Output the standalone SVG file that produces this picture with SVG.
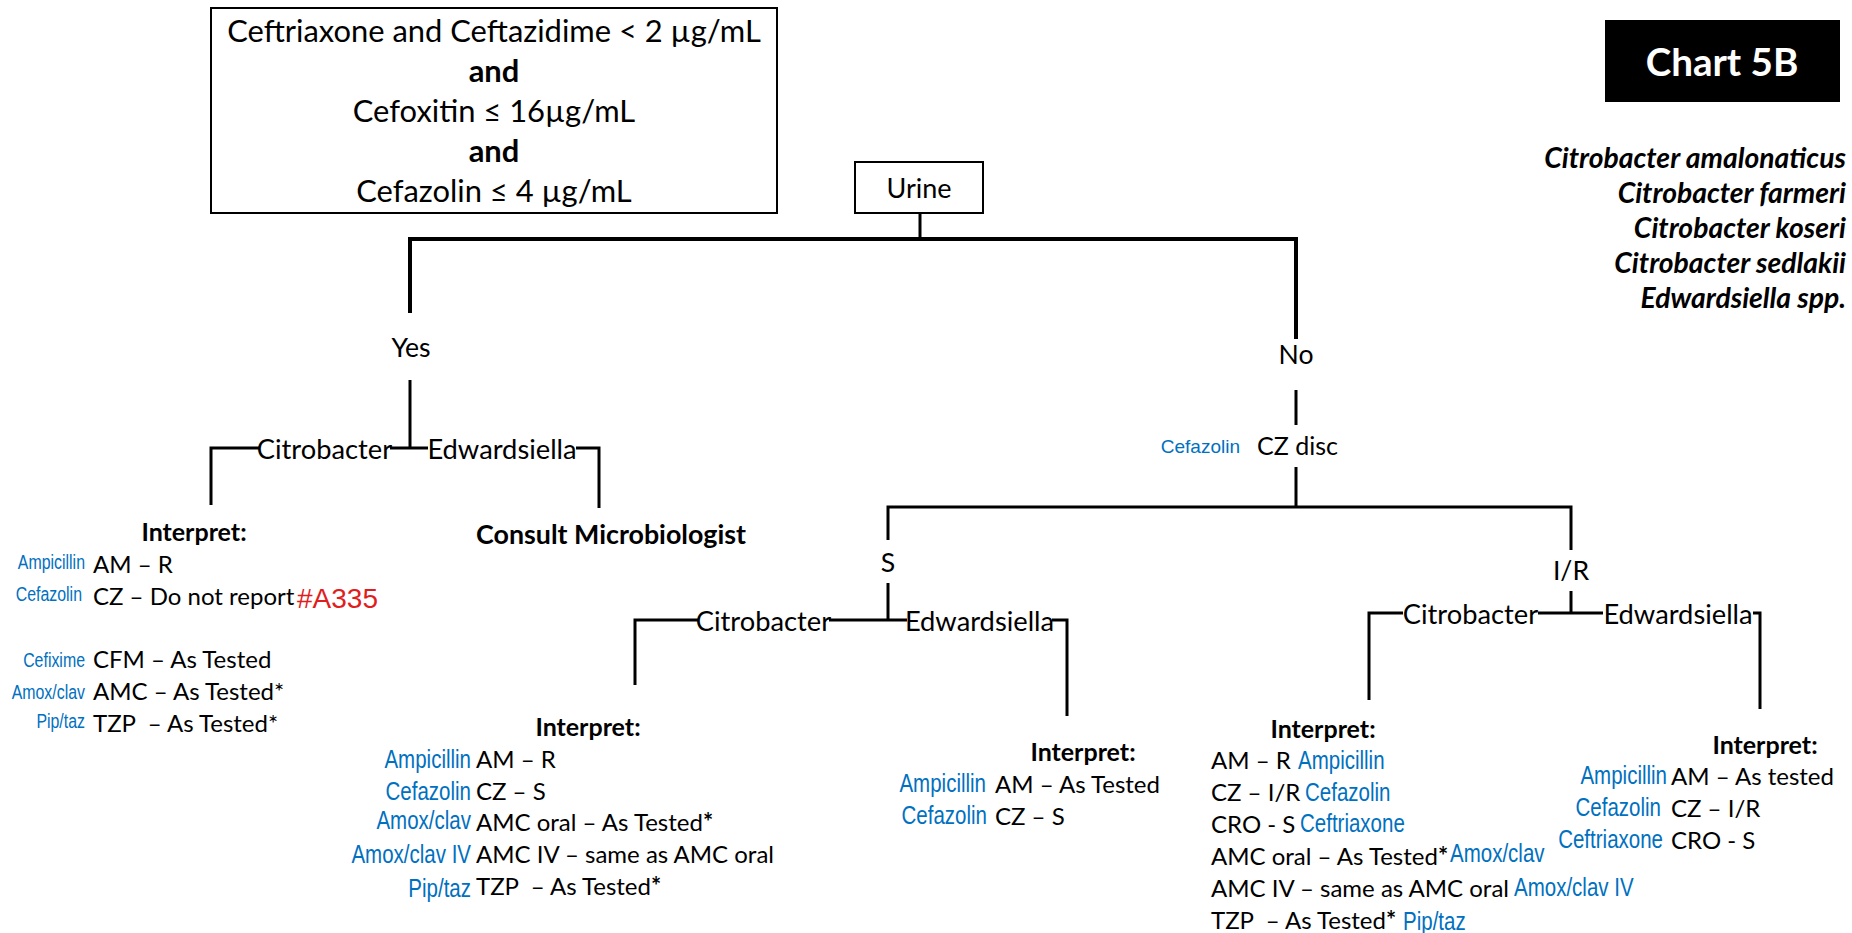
<svg xmlns="http://www.w3.org/2000/svg" width="1852" height="933" viewBox="0 0 1852 933">
  <style>
    text { font-family: Lato, 'Liberation Sans', Arial, sans-serif; fill: #000; dominant-baseline: central; white-space: pre; }
    .b { font-weight: 700; }
    .c { text-anchor: middle; }
    .e { text-anchor: end; }
    .crit { font-size: 30.9px; }
    .br { font-size: 26.6px; }
    .org { font-size: 27.3px; }
    .hd { font-size: 25px; font-weight: 700; }
    .row { font-size: 24px; }
    .lab { font-family: 'Liberation Sans', Arial, sans-serif; fill: #0070C0; font-size: 25px; }
    .lab-s { font-size: 19.4px; }
    .red { font-family: 'Liberation Sans', Arial, sans-serif; fill: #E01E1E; font-size: 28px; }
    .sp { font-size: 28.3px; font-weight: 700; font-style: italic; text-anchor: end; }
    .box { fill: #fff; stroke: #000; stroke-width: 2; }
    .ln { fill: none; stroke: #000; stroke-width: 3; }
  </style>

  <rect width="1852" height="933" fill="#fff"/>

  <!-- connectors -->
  <g id="connectors">
    <path class="ln" d="M920,213 V239"/>
    <path class="ln" style="stroke-width:4" d="M410,313 V239 H1296 V339"/>
    <path class="ln" d="M410,380 V448"/>
    <path class="ln" d="M211,505 V448 H259 M390,448 H428 M576,448 H599 V508"/>
    <path class="ln" d="M1296,390 V425 M1296,467 V507"/>
    <path class="ln" d="M888,540 V507 H1571 V550"/>
    <path class="ln" d="M888,583 V620"/>
    <path class="ln" d="M635,685 V620 H698 M829,620 H907 M1052,620 H1067 V716"/>
    <path class="ln" d="M1571,591 V613"/>
    <path class="ln" d="M1369,700 V613 H1403 M1538,613 H1603 M1753,613 H1760 V709"/>
  </g>

  <!-- criteria box -->
  <g id="criteria">
    <rect class="box" x="211" y="8" width="566" height="205"/>
    <text class="crit c" x="494" y="30">Ceftriaxone and Ceftazidime &lt; 2 µg/mL</text>
    <text class="crit c b" x="494" y="70">and</text>
    <text class="crit c" x="494" y="110">Cefoxitin ≤ 16µg/mL</text>
    <text class="crit c b" x="494" y="150">and</text>
    <text class="crit c" x="494" y="190">Cefazolin ≤ 4 µg/mL</text>
  </g>

  <!-- chart title -->
  <g id="title">
    <rect x="1605" y="20" width="235" height="82" fill="#000"/>
    <text class="b c" x="1722" y="61" style="fill:#fff;font-size:38.6px">Chart 5B</text>
  </g>

  <!-- organisms covered -->
  <g id="species">
    <text class="sp" x="1846" y="157">Citrobacter amalonaticus</text>
    <text class="sp" x="1846" y="192">Citrobacter farmeri</text>
    <text class="sp" x="1846" y="227">Citrobacter koseri</text>
    <text class="sp" x="1846" y="262">Citrobacter sedlakii</text>
    <text class="sp" x="1846" y="297">Edwardsiella spp.</text>
  </g>

  <g id="urine">
    <rect class="box" x="855" y="162" width="128" height="51"/>
    <text class="c" x="919" y="187" style="font-size:27px">Urine</text>
  </g>

  <g id="yes"><text class="br c" x="411" y="347">Yes</text></g>
  <g id="no"><text class="br c" x="1296" y="354">No</text></g>

  <!-- Yes branch -->
  <g id="yes-citrobacter"><text class="org c" x="324.5" y="448">Citrobacter</text></g>
  <g id="yes-edwardsiella"><text class="org c" x="502" y="448">Edwardsiella</text></g>

  <g id="yes-citrobacter-interpret">
    <text class="hd c" x="194" y="531">Interpret:</text>
    <text class="lab lab-s e" transform="translate(85,562) scale(0.82,1)">Ampicillin</text>
    <text class="row" x="93" y="563">AM – R</text>
    <text class="lab lab-s e" transform="translate(82,594) scale(0.82,1)">Cefazolin</text>
    <text class="row" x="93" y="595">CZ – Do not report</text>
    <text class="red" x="297" y="598">#A335</text>
    <text class="lab lab-s e" transform="translate(85,660) scale(0.82,1)">Cefixime</text>
    <text class="row" x="93" y="658">CFM – As Tested</text>
    <text class="lab lab-s e" transform="translate(85,692) scale(0.82,1)">Amox/clav</text>
    <text class="row" x="93" y="690">AMC – As Tested*</text>
    <text class="lab lab-s e" transform="translate(85,721) scale(0.82,1)">Pip/taz</text>
    <text class="row" x="93" y="722">TZP  – As Tested*</text>
  </g>

  <g id="yes-edwardsiella-consult">
    <text class="b c" x="611" y="534" style="font-size:26.8px">Consult Microbiologist</text>
  </g>

  <!-- No branch -->
  <g id="cz-disc">
    <text class="lab e" x="1240" y="446" style="font-size:19px">Cefazolin</text>
    <text x="1257" y="445" style="font-size:25px">CZ disc</text>
  </g>
  <g id="s"><text class="br c" x="888" y="562">S</text></g>
  <g id="ir"><text class="br c" x="1571" y="570">I/R</text></g>

  <g id="s-citrobacter"><text class="org c" x="763.5" y="620">Citrobacter</text></g>
  <g id="s-edwardsiella"><text class="org c" x="979.5" y="620">Edwardsiella</text></g>

  <g id="s-citrobacter-interpret">
    <text class="hd c" x="588" y="726">Interpret:</text>
    <text class="lab e" transform="translate(471,759) scale(0.82,1)">Ampicillin</text>
    <text class="row" x="476" y="758">AM – R</text>
    <text class="lab e" transform="translate(471,791) scale(0.82,1)">Cefazolin</text>
    <text class="row" x="476" y="790">CZ – S</text>
    <text class="lab e" transform="translate(471,820) scale(0.82,1)">Amox/clav</text>
    <text class="row" x="476" y="821">AMC oral – As Tested<tspan class="b">*</tspan></text>
    <text class="lab e" transform="translate(471,854) scale(0.82,1)">Amox/clav IV</text>
    <text class="row" x="476" y="853">AMC IV – same as AMC oral</text>
    <text class="lab e" transform="translate(471,888) scale(0.82,1)">Pip/taz</text>
    <text class="row" x="476" y="885">TZP  – As Tested<tspan class="b">*</tspan></text>
  </g>

  <g id="s-edwardsiella-interpret">
    <text class="hd c" x="1083" y="751">Interpret:</text>
    <text class="lab e" transform="translate(986,783) scale(0.82,1)">Ampicillin</text>
    <text class="row" x="995" y="783">AM – As Tested</text>
    <text class="lab e" transform="translate(987,815) scale(0.82,1)">Cefazolin</text>
    <text class="row" x="995" y="815">CZ – S</text>
  </g>

  <g id="ir-citrobacter"><text class="org c" x="1470.5" y="613">Citrobacter</text></g>
  <g id="ir-edwardsiella"><text class="org c" x="1678" y="613">Edwardsiella</text></g>

  <g id="ir-citrobacter-interpret">
    <text class="hd c" x="1323" y="728">Interpret:</text>
    <text class="row" x="1211" y="759">AM – R</text>
    <text class="lab" transform="translate(1298,760) scale(0.82,1)">Ampicillin</text>
    <text class="row" x="1211" y="791">CZ – I/R</text>
    <text class="lab" transform="translate(1305,792) scale(0.82,1)">Cefazolin</text>
    <text class="row" x="1211" y="823">CRO - S</text>
    <text class="lab" transform="translate(1300,823) scale(0.82,1)">Ceftriaxone</text>
    <text class="row" x="1211" y="855">AMC oral – As Tested<tspan class="b">*</tspan></text>
    <text class="lab" transform="translate(1450,853) scale(0.82,1)">Amox/clav</text>
    <text class="row" x="1211" y="887">AMC IV – same as AMC oral</text>
    <text class="lab" transform="translate(1514,887) scale(0.82,1)">Amox/clav IV</text>
    <text class="row" x="1211" y="919">TZP  – As Tested<tspan class="b">*</tspan></text>
    <text class="lab" transform="translate(1403,921) scale(0.82,1)">Pip/taz</text>
  </g>

  <g id="ir-edwardsiella-interpret">
    <text class="hd c" x="1765" y="744">Interpret:</text>
    <text class="lab e" transform="translate(1667,775) scale(0.82,1)">Ampicillin</text>
    <text class="row" x="1671" y="775">AM – As tested</text>
    <text class="lab e" transform="translate(1661,807) scale(0.82,1)">Cefazolin</text>
    <text class="row" x="1671" y="807">CZ – I/R</text>
    <text class="lab e" transform="translate(1663,839) scale(0.82,1)">Ceftriaxone</text>
    <text class="row" x="1671" y="839">CRO - S</text>
  </g>
</svg>
